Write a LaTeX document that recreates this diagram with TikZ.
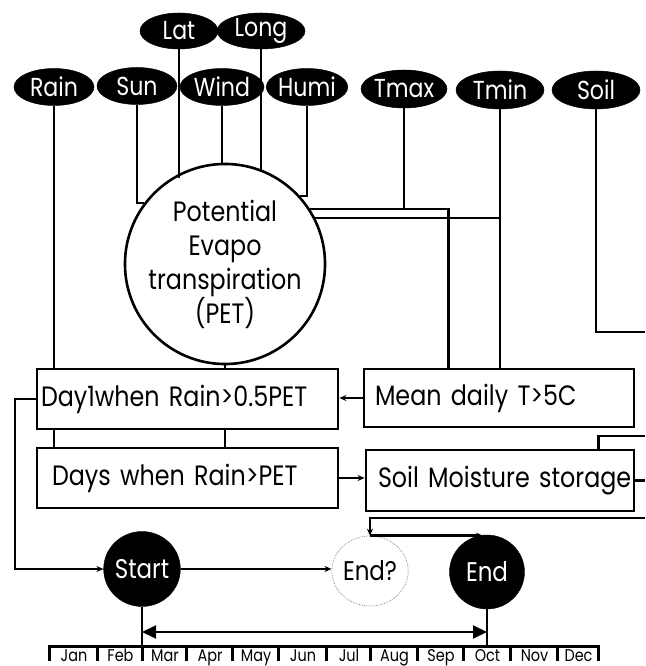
\documentclass[tikz,border=0pt]{standalone}
\usepackage{fontspec}
\setmainfont{Poppins}[FakeStretch=0.85]
\usetikzlibrary{arrows.meta,calc,shapes.geometric}
\begin{document}
\begin{tikzpicture}[x=1pt,y=1pt,
  ln/.style={line width=2.6pt},
  arr/.style={-{Stealth[length=7pt,width=6pt]}},
  oval/.style={ellipse, fill=black, draw=black, line width=0.5pt, text=white, inner sep=0pt, font=\fontsize{26}{30}\selectfont},
  box/.style={rectangle, draw=black, line width=2.8pt, inner ysep=0pt, align=left, font=\fontsize{28}{32}\selectfont},
  blob/.style={ellipse, fill=black, draw=black, text=white, inner sep=0pt, font=\fontsize{27}{30}\selectfont},
  month/.style={anchor=base, inner sep=0pt, font=\fontsize{17}{19}\selectfont}
]
\useasboundingbox (0,0) rectangle (645,666);
% input ovals
\node[oval, minimum width=78, minimum height=36] (Lat) at (179,635) {Lat};
\node[oval, minimum width=88, minimum height=36] (Long) at (261,635) {Long};
\node[oval, minimum width=80, minimum height=37] (Rain) at (54,579) {Rain};
\node[oval, minimum width=80, minimum height=37] (Sun) at (137,580) {Sun};
\node[oval, minimum width=84, minimum height=37] (Wind) at (222,579) {Wind};
\node[oval, minimum width=80, minimum height=37] (Humi) at (307,579) {Humi};
\node[oval, minimum width=86, minimum height=38] (Tmax) at (404,577) {Tmax};
\node[oval, minimum width=88, minimum height=38] (Tmin) at (500,576) {Tmin};
\node[oval, minimum width=88, minimum height=38] (Soil) at (596,576) {Soil};
% PET circle
\node[circle, draw=black, line width=2.6pt, minimum size=172, inner sep=0pt, align=center,
      font=\fontsize{28}{34}\selectfont] (PET) at (225,402)
      {Potential\\Evapo\\transpiration\\(PET)};
% boxes
\node[box, inner xsep=4pt, text width=293pt, minimum height=60] (Day1) at (187.5,267) {\mbox{Day1when Rain>0.5PET}};
\node[box, inner xsep=11pt, text width=248pt, minimum height=58] (Mean) at (499,268) {\mbox{Mean daily T>5C}};
\node[box, inner xsep=15pt, text width=271pt, minimum height=60] (Days) at (187.5,188) {\mbox{Days when Rain>PET}};
\node[box, inner xsep=12pt, text width=244pt, minimum height=61] (SoilM) at (500,185.5) {\mbox{Soil Moisture storage}};
% bottom circles
\node[blob, minimum width=75, minimum height=75] (Start) at (142,97) {Start};
\node[ellipse, draw=gray, densely dotted, line width=0.7pt, minimum width=73, minimum height=70, inner sep=0pt,
      font=\fontsize{27}{30}\selectfont] (EndQ) at (370,95) {End?};
\node[blob, minimum width=75, minimum height=74] (End) at (487,94) {End};
% free ends
\coordinate (soilend) at (645,334);
\coordinate (smtop) at (645,230);
\coordinate (smright) at (645,186);
\coordinate (loopin) at (645,148);
\coordinate (lft) at (15,0);
\coordinate (axl) at (49,19);
\coordinate (axr) at (598,19);
\coordinate (dbl) at (0,34);
% connectors to PET
\draw[ln] (Sun.south) |- (PET.143.6);
\draw[ln] (Lat.south) -- (Lat.south |- PET.122.3);
\draw[ln] (Wind.south) -- (Wind.south |- PET.north);
\draw[ln] (Long.south) -- (Long.south |- PET.65.3);
\draw[ln] (Humi.south) |- (PET.42.4);
% temperature lines
\draw[ln] (PET.33.9) -| ($(Mean.north west)+(86,0)$);
\draw[ln] (Tmax.south) -- (Tmax.south |- PET.33.9);
\draw[ln] (PET.27) -- (PET.27 -| Tmin.south);
\draw[ln] (Tmin.south) -- (Tmin.south |- Mean.north);
% soil
\draw[ln] (Soil.south) |- (soilend);
% rain & PET to boxes
\draw[ln] (Rain.south) -- (Rain.south |- Day1.north);
\draw[ln] (Day1.south -| Rain.south) -- (Days.north -| Rain.south);
\draw[ln] (PET.south) -- (PET.south |- Day1.north);
\draw[ln] (Day1.south -| PET.south) -- (Days.north -| PET.south);
% box arrows
\draw[ln,arr] (Mean.west) -- (Mean.west -| Day1.east);
\draw[ln,arr] (Days.east) -- (Days.east -| SoilM.west);
\draw[ln] ($(SoilM.north west)+(234,0)$) |- (smtop);
\draw[ln] (SoilM.east) -- (SoilM.east -| smright);
\draw[ln,arr] (loopin) -| (EndQ.north);
\draw[ln,arr] (EndQ.north) -- ($(EndQ.north -| End.north)+(-4,0)$);
\draw[ln,arr] (Day1.west) -- (Day1.west -| lft) |- (Start.west);
\draw[ln,arr] (Start.east) -- (Start.east -| EndQ.west);
% season
\draw[ln] (Start.south) -- (Start.south |- axl);
\draw[ln] (End.south) -- (End.south |- axl);
\draw[line width=2pt, {Triangle[length=14pt,width=13pt]}-{Triangle[length=14pt,width=13pt]}]
  (Start.south |- dbl) -- (End.south |- dbl);
% month axis
\draw[line width=3pt, line join=miter] (49,5) -- (axl) -- (axr) -- (598,5);
\foreach \x in {97,142,186,232,278,326,370,417,463,510,557}
  \draw[line width=3pt] (\x,20) -- (\x,5);
\foreach \c/\m in {74/Jan,120.5/Feb,165/Mar,210/Apr,256/May,303/Jun,349/Jul,394.5/Aug,441/Sep,487.5/Oct,534.5/Nov,578.5/Dec}
  \node[month] (m\m) at (\c,5) {\m};
\end{tikzpicture}
\end{document}
